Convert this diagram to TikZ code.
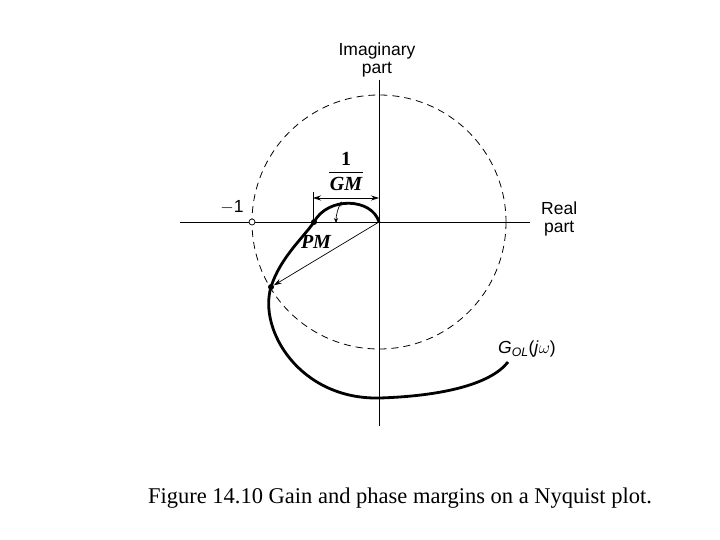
\documentclass[tikz,border=0pt]{standalone}
\usepackage{fontspec}
\setmainfont{Liberation Serif}
\newfontfamily\lsans{Liberation Sans}
\usetikzlibrary{arrows.meta}
\begin{document}
\begin{tikzpicture}[x=1pt,y=-1pt,
  axis/.style={line width=0.9pt},
  lbl/.style={font=\lsans\fontsize{17.5}{18}\selectfont,align=center,inner sep=1pt},
  bi/.style={font=\bfseries\itshape\fontsize{20}{21}\selectfont,inner sep=1pt},
  thin arrow/.style={line width=0.7pt,-{Stealth[length=8pt,width=5pt]}}]
\useasboundingbox (0,0) rectangle (720,540);
\coordinate (O) at (379,222);
\coordinate (xl) at (180,222); \coordinate (xr) at (530,222);
\coordinate (yt) at (379,80); \coordinate (yb) at (379,426);
\draw[axis] (xl) -- (xr);
\draw[axis] (yt) -- (yb);
\draw[line width=0.8pt,dash pattern=on 7pt off 5pt] (O) circle[radius=127];
\node[lbl,anchor=south] (im) at (377,78) {Imaginary\\part};
\node[lbl,anchor=west] (re) at (540,219) {Real\\part};
\node[lbl] (m1) at (232,207) {$-$1};
\node[draw,circle,fill=white,inner sep=0pt,minimum size=6pt,line width=0.7pt] (p1) at (252,222) {};
% Nyquist curve
\draw[line width=2.8pt] (O) .. controls (372,198) and (328,196) .. (314,222)
  .. controls (303,238) and (280,258) .. (271,287)
  .. controls (258,330) and (300,400) .. (380,398)
  .. controls (440,396) and (490,385) .. (508,362);
\node[circle,fill,inner sep=0pt,minimum size=6pt] (c1) at (314,222) {};
\node[circle,fill,inner sep=0pt,minimum size=6pt] (c2) at (271,287) {};
% 1/GM
\coordinate (t1) at (313,192); \coordinate (t2) at (313,222);
\draw[line width=0.7pt] (t1) -- (t2);
\coordinate (g1) at (313,198); \coordinate (g2) at (379,198);
\draw[line width=0.7pt,{Stealth[length=8pt,width=5pt]}-{Stealth[length=8pt,width=5pt]}] (g1) -- (g2);
\node[bi,font=\bfseries\fontsize{20}{21}\selectfont] (one) at (346,159) {1};
\coordinate (f1) at (329,172); \coordinate (f2) at (363,172);
\draw[line width=0.8pt] (f1) -- (f2);
\node[bi] (gm) at (346,184) {GM};
% PM
\draw[thin arrow] (O) -- (c2);
\draw[line width=0.7pt,{Stealth[length=5pt,width=4pt]}-{Stealth[length=5pt,width=4pt]}] (336,223) arc[start angle=180,end angle=210,radius=43];
\node[bi] (pm) at (316,242) {PM};
\node[lbl,anchor=west] (gol) at (497,349) {\textit{G}\textsubscript{\textit{OL}}(\textit{j}$\omega$)};
\node[font=\fontsize{22.5}{24}\selectfont] (cap) at (400,498) {Figure 14.10 Gain and phase margins on a Nyquist plot.};
\end{tikzpicture}
\end{document}
